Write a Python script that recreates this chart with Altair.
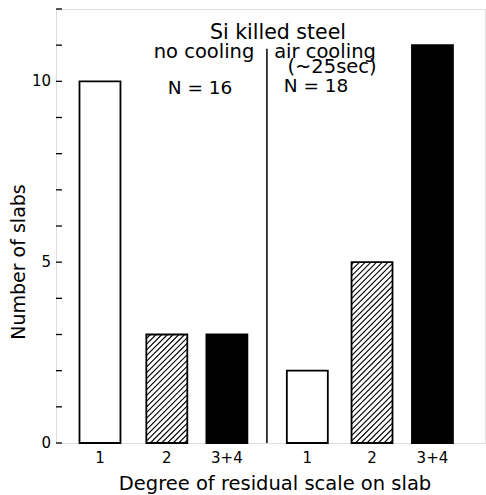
import altair as alt
import pandas as pd

# ---- data ----
groups = ["no cooling", "no cooling", "no cooling", "air cooling", "air cooling", "air cooling"]
degrees = ["1", "2", "3+4", "1", "2", "3+4"]
counts = [10, 3, 3, 2, 5, 11]
bar_pos = [1.23, 3.10, 4.78, 7.03, 8.84, 10.53]
divider_pos = 5.90
divider_top = 10.9
y_ticks = list(range(0, 13))
y_labels = [0, 5, 10]

W, H = 429, 434
XMAX, YMAX = 12, 12
HALF = 0.573
HATCH_STEP = 5.7  # px
FONT = "DejaVu Sans"

bars = pd.DataFrame({
    "group": groups, "degree": degrees, "count": counts, "pos": bar_pos,
})
bars["x0"] = bars["pos"] - HALF
bars["x1"] = bars["pos"] + HALF

# hatch segments for degree "2" bars (45 degree lines clipped to the bar)
segs = []
for _, r in bars[bars["degree"] == "2"].iterrows():
    w = 2 * HALF * W / XMAX
    h = r["count"] * H / YMAX
    c = -w + HATCH_STEP / 2
    while c < h:
        a = max(0.0, -c)
        b = min(w, h - c)
        if b > a:
            segs.append({
                "xa": r["x0"] + a * XMAX / W, "ya": (a + c) * YMAX / H,
                "xb": r["x0"] + b * XMAX / W, "yb": (b + c) * YMAX / H,
            })
        c += HATCH_STEP
hatch = pd.DataFrame(segs)

xs = alt.Scale(domain=[0, XMAX], nice=False, zero=False)
ys = alt.Scale(domain=[0, YMAX], nice=False)

fill_scale = alt.Scale(domain=["1", "2", "3+4"], range=["white", "white", "black"])

bar_fill = alt.Chart(bars).mark_rect(strokeWidth=0).encode(
    x=alt.X("x0:Q", scale=xs, axis=None),
    x2="x1:Q",
    y=alt.Y("count:Q", scale=ys, axis=None),
    y2=alt.datum(0),
    fill=alt.Fill("degree:N", scale=fill_scale, legend=None),
)

hatch_layer = alt.Chart(hatch).mark_rule(color="black", strokeWidth=1.1).encode(
    x=alt.X("xa:Q", scale=xs, axis=None), y=alt.Y("ya:Q", scale=ys, axis=None),
    x2="xb:Q", y2="yb:Q",
)

bar_outline = alt.Chart(bars).mark_rect(fillOpacity=0, stroke="black", strokeWidth=1.8).encode(
    x=alt.X("x0:Q", scale=xs, axis=None), x2="x1:Q",
    y=alt.Y("count:Q", scale=ys, axis=None), y2=alt.datum(0),
)

ticks = alt.Chart(pd.DataFrame({"t": y_ticks})).mark_rule(color="black", strokeWidth=1.3).encode(
    y=alt.Y("t:Q", scale=ys, axis=None), x=alt.value(0), x2=alt.value(6),
)

ylab = alt.Chart(pd.DataFrame({"v": y_labels})).mark_text(
    fontSize=15, font=FONT, color="black", align="right", baseline="middle").encode(
    y=alt.Y("v:Q", scale=ys, axis=None), x=alt.value(-5), text="v:Q",
)

divider = alt.Chart(pd.DataFrame({"x": [divider_pos], "y0": [0], "y1": [divider_top]})).mark_rule(
    color="black", strokeWidth=1.5).encode(
    x=alt.X("x:Q", scale=xs, axis=None), y=alt.Y("y0:Q", scale=ys, axis=None), y2="y1:Q",
)

xlabels = alt.Chart(bars).mark_text(fontSize=15, font=FONT, color="black", baseline="alphabetic").encode(
    x=alt.X("pos:Q", scale=xs, axis=None), y=alt.value(H + 20), text="degree:N",
)

one = pd.DataFrame({"a": [0]})


def label(txt, px, py, size, angle=0, baseline="alphabetic"):
    kw = dict(fontSize=size, font=FONT, color="black", align="center", baseline=baseline)
    if angle:
        kw["angle"] = angle
    return alt.Chart(one).mark_text(**kw).encode(
        x=alt.value(px), y=alt.value(py), text=alt.value(txt))


annots = [
    label("Si killed steel", 278 - 56, 39 - 9, 20.5),
    label("no cooling", 204 - 56, 58 - 9, 19.5),
    label("air cooling", 325 - 56, 58 - 9, 19.5),
    label("(~25sec)", 332 - 56, 73 - 9, 19.5),
    label("N = 16", 200 - 56, 94 - 9, 18.5),
    label("N = 18", 316 - 56, 92 - 9, 18.5),
    label("Degree of residual scale on slab", 275 - 56, 490 - 9, 19.5),
    label("Number of slabs", 18.5 - 56, 262 - 9, 19, angle=270, baseline="middle"),
]

chart = alt.layer(bar_fill, hatch_layer, bar_outline, ticks, ylab, divider, xlabels, *annots).properties(
    width=W, height=H,
    padding={"left": 56, "top": 9, "right": 1, "bottom": 52},
    autosize=alt.AutoSizeParams(type="none"),
).configure_view(stroke="black", strokeWidth=1.6).configure(background="white")

chart.save("out.html", embed_options={"renderer": "svg", "actions": False})
